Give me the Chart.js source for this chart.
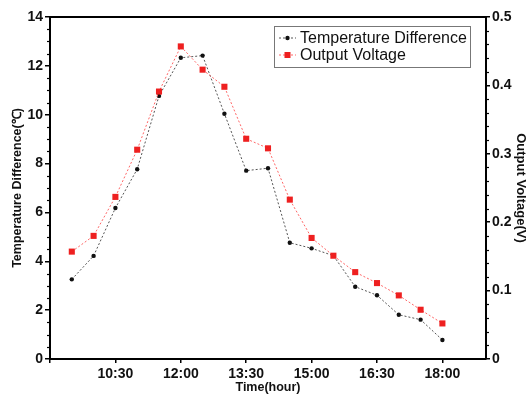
<!DOCTYPE html>
<html>
<head>
<meta charset="utf-8">
<script src="https://cdn.jsdelivr.net/npm/chart.js@4/dist/chart.umd.min.js"></script>
<style>
  html, body { margin: 0; padding: 0; background: #fff; }
</style>
</head>
<body>
<canvas id="chart" width="528" height="396"></canvas>
<script>
// data
const times = ['9:30', '10:00', '10:30', '11:00', '11:30', '12:00', '12:30', '13:00', '13:30',
  '14:00', '14:30', '15:00', '15:30', '16:00', '16:30', '17:00', '17:30', '18:00'];
const tempDiff = [3.26, 4.22, 6.18, 7.77, 10.77, 12.33, 12.42, 10.04, 7.71,
  7.81, 4.76, 4.53, 4.23, 2.96, 2.61, 1.81, 1.61, 0.78];
const outVoltage = [0.157, 0.180, 0.237, 0.306, 0.391, 0.457, 0.423, 0.398, 0.322,
  0.308, 0.233, 0.177, 0.151, 0.127, 0.111, 0.093, 0.072, 0.052];
const timeTicks = ['10:30', '12:00', '13:30', '15:00', '16:30', '18:00'];
const timeRange = ['9:00', '19:00'];

const FONT = "'Liberation Sans', Arial, sans-serif";

function toMin(s) {
  const p = s.split(':');
  return +p[0] * 60 + +p[1];
}
function fmtMin(m) {
  return Math.floor(m / 60) + ':' + String(m % 60).padStart(2, '0');
}

const tempPoints = times.map((t, i) => ({ x: toMin(t), y: tempDiff[i] }));
const voltPoints = times.map((t, i) => ({ x: toMin(t), y: outVoltage[i] }));

// frame, minor ticks and boxed legend
const extras = {
  id: 'extras',
  afterDraw(chart) {
    const ctx = chart.ctx;
    const a = chart.chartArea;
    ctx.save();
    ctx.strokeStyle = '#000';
    ctx.lineWidth = 2;
    ctx.beginPath();
    ctx.moveTo(a.left - 1, a.top);
    ctx.lineTo(a.right + 1, a.top);
    ctx.stroke();

    ctx.lineWidth = 1.2;
    const y = chart.scales.y;
    for (let i = 1; i < 28; i++) {
      if (i % 4 === 0) continue;
      const p = Math.round(y.getPixelForValue(i * 0.5)) + 0.5;
      ctx.beginPath();
      ctx.moveTo(a.left - 3, p);
      ctx.lineTo(a.left, p);
      ctx.stroke();
    }
    const y1 = chart.scales.y1;
    for (let i = 1; i < 25; i++) {
      if (i % 5 === 0) continue;
      const p = Math.round(y1.getPixelForValue(i * 0.02)) + 0.5;
      ctx.beginPath();
      ctx.moveTo(a.right, p);
      ctx.lineTo(a.right + 3, p);
      ctx.stroke();
    }

    // legend
    const lx = a.right - 212, ly = a.top + 9;
    ctx.strokeStyle = '#777';
    ctx.lineWidth = 1;
    ctx.strokeRect(lx + 0.5, ly + 0.5, 196, 41);
    const rows = [chart.data.datasets[1], chart.data.datasets[0]];
    ctx.font = '16px ' + FONT;
    ctx.textBaseline = 'middle';
    rows.forEach((ds, i) => {
      const ry = ly + 12 + i * 17;
      ctx.strokeStyle = ds.borderColor;
      ctx.setLineDash([2, 2]);
      ctx.beginPath();
      ctx.moveTo(lx + 5, ry);
      ctx.lineTo(lx + 22, ry);
      ctx.stroke();
      ctx.setLineDash([]);
      ctx.fillStyle = ds.pointBackgroundColor;
      if (ds.pointStyle === 'rect') {
        ctx.fillRect(lx + 10.5, ry - 3, 6, 6);
      } else {
        ctx.beginPath();
        ctx.arc(lx + 13.5, ry, 2.2, 0, Math.PI * 2);
        ctx.fill();
      }
      ctx.fillStyle = '#111';
      ctx.fillText(ds.label, lx + 26, ry + 1);
    });
    ctx.restore();
  }
};

new Chart(document.getElementById('chart'), {
  type: 'line',
  plugins: [extras],
  data: {
    datasets: [
      {
        label: 'Output Voltage',
        data: voltPoints,
        yAxisID: 'y1',
        order: 0,
        borderColor: '#f66',
        borderWidth: 1,
        borderDash: [2, 2],
        pointStyle: 'rect',
        pointRadius: 4.3,
        pointBackgroundColor: '#ee2020',
        pointBorderWidth: 0
      },
      {
        label: 'Temperature Difference',
        data: tempPoints,
        yAxisID: 'y',
        order: 1,
        borderColor: '#555',
        borderWidth: 1,
        borderDash: [2, 2],
        pointStyle: 'circle',
        pointRadius: 2.2,
        pointBackgroundColor: '#111',
        pointBorderWidth: 0
      }
    ]
  },
  options: {
    responsive: false,
    animation: false,
    layout: { padding: { top: 17, left: 0, right: 0, bottom: 0 } },
    plugins: {
      legend: { display: false },
      tooltip: { enabled: false }
    },
    scales: {
      x: {
        type: 'linear',
        min: toMin(timeRange[0]),
        max: toMin(timeRange[1]),
        afterBuildTicks: (s) => {
          s.ticks = [timeRange[0]].concat(timeTicks).map(t => ({ value: toMin(t) }));
        },
        afterFit: (s) => { s.height = 37; },
        border: { color: '#000', width: 2 },
        grid: { drawOnChartArea: false, color: '#000', tickLength: 4, lineWidth: 1.5 },
        ticks: {
          color: '#111',
          padding: 3,
          maxRotation: 0,
          autoSkip: false,
          font: { family: FONT, size: 14, weight: 'bold' },
          callback: (v) => timeTicks.includes(fmtMin(v)) ? fmtMin(v) : ''
        },
        title: {
          display: true,
          text: 'Time(hour)',
          color: '#111',
          padding: { top: 0, bottom: 1 },
          font: { family: FONT, size: 12.5, weight: 'bold' }
        }
      },
      y: {
        position: 'left',
        min: 0,
        max: 14,
        afterFit: (s) => { s.width = 50; },
        border: { color: '#000', width: 2 },
        grid: { drawOnChartArea: false, color: '#000', tickLength: 5, lineWidth: 1.5 },
        ticks: {
          stepSize: 2,
          color: '#111',
          padding: 2,
          font: { family: FONT, size: 14, weight: 'bold' }
        },
        title: {
          display: true,
          text: 'Temperature Difference(℃)',
          color: '#111',
          padding: { top: 10, bottom: 0 },
          font: { family: FONT, size: 12.5, weight: 'bold' }
        }
      },
      y1: {
        position: 'right',
        min: 0,
        max: 0.5,
        afterFit: (s) => { s.width = 42; },
        border: { color: '#000', width: 2 },
        grid: { drawOnChartArea: false, color: '#000', tickLength: 4, lineWidth: 1.5 },
        ticks: {
          stepSize: 0.1,
          color: '#111',
          padding: 2,
          font: { family: FONT, size: 14, weight: 'bold' }
        },
        title: {
          display: true,
          text: 'Output Voltage(V)',
          color: '#111',
          padding: { top: 0, bottom: 0 },
          font: { family: FONT, size: 13, weight: 'bold' }
        }
      }
    }
  }
});
</script>
</body>
</html>
